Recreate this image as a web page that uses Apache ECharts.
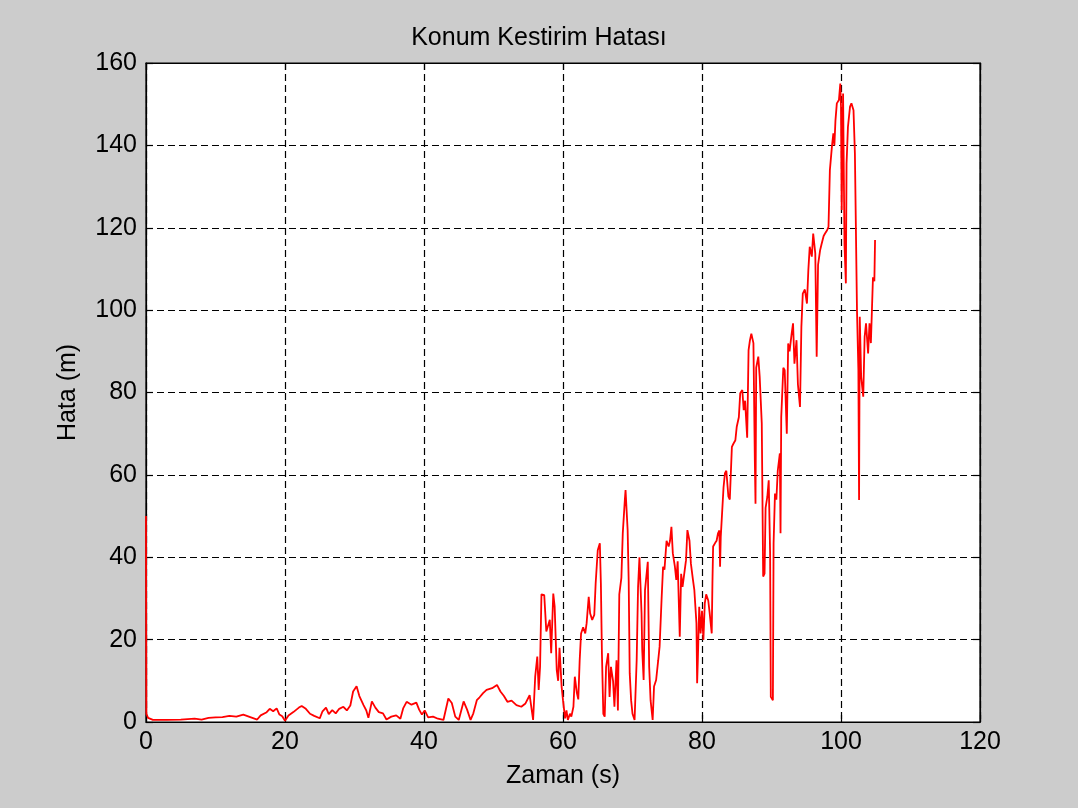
<!DOCTYPE html>
<html>
<head>
<meta charset="utf-8">
<title>Konum Kestirim Hatası</title>
<script src="https://cdn.jsdelivr.net/npm/echarts@6/dist/echarts.min.js"></script>
<style>
  html, body { margin: 0; padding: 0; background: #cccccc; }
  #chart { width: 1078px; height: 808px; }
</style>
</head>
<body>
<div id="chart"></div>
<script>
// Time stamps (s) of the position-estimate error samples
const times = [
  0, 0.05, 0.3, 1, 3, 5, 7, 8, 9, 10, 11, 12, 13, 14, 15, 16, 16.5, 17.3, 17.8, 18.3,
  18.8, 19.2, 19.6, 20, 20.5, 21.2, 22.0, 22.4, 23, 23.6, 24.2, 25, 25.4, 25.9, 26.3, 26.8,
  27.3, 27.8, 28.4, 28.9, 29.4, 29.8, 30.3, 30.7, 31.3, 31.7, 32.0, 32.5, 33.0, 33.5, 34.1,
  34.6, 35.3, 36.0, 36.6, 37.0, 37.5, 38.2, 38.9, 39.3, 39.7, 40.1, 40.6, 41.3, 42.0, 42.8,
  43.5, 44.0, 44.5, 45.0, 45.7, 46.2, 46.7, 47.1, 47.6, 48.0, 48.5, 49.0, 49.8, 50.5, 51.0,
  51.5, 52.0, 52.6, 53.3, 54.0, 54.6, 55.2, 55.7,
  56.0, 56.3, 56.5, 56.7, 56.9, 57.3, 57.6, 58.1, 58.3, 58.6, 58.8, 59.1, 59.3, 59.5, 59.8,
  60.0, 60.3, 60.5, 60.7, 61.0, 61.2, 61.5, 61.7, 62.0, 62.2, 62.4, 62.6, 62.9, 63.2, 63.4,
  63.7, 63.9, 64.2, 64.5, 64.7, 65.0, 65.3, 65.45, 65.6, 65.8, 66.0, 66.2, 66.5, 66.7, 66.9,
  67.2, 67.4, 67.7, 67.9, 68.1, 68.4, 68.6, 68.9, 69.0, 69.3, 69.45, 69.6, 69.8, 70.0, 70.3,
  70.6, 70.8, 71.0, 71.2, 71.3, 71.4, 71.6, 71.8, 72.2, 72.3, 72.4, 72.6, 72.9, 73.1, 73.4,
  73.7, 73.9, 74.2, 74.4, 74.6, 74.9, 75.2, 75.4, 75.6, 75.8, 76.1, 76.3, 76.5, 76.8, 77.0,
  77.2, 77.7, 77.9, 78.2, 78.4, 78.7, 78.9, 79.2, 79.3, 79.4, 79.6, 79.8, 80.0, 80.2, 80.4,
  80.6, 80.9, 81.1, 81.4, 81.5, 81.6, 81.9, 82.1, 82.3, 82.5, 82.6, 82.7, 83.1, 83.3, 83.5,
  83.8, 84.0, 84.3, 84.5, 84.8, 85.0, 85.3, 85.5, 85.8, 86.0, 86.2, 86.5, 86.7, 86.9, 87.1,
  87.4, 87.6, 87.7, 87.8, 88.1, 88.3, 88.6, 88.8, 89.0, 89.15, 89.4, 89.6, 89.8, 89.9, 90.2,
  90.3, 90.5, 90.7, 90.9, 91.2, 91.3, 91.4, 91.7, 91.9, 92.2, 92.4, 92.6, 92.9, 93.1, 93.3,
  93.6, 93.8, 94.1, 94.3, 94.5, 94.8, 95.1, 95.3, 95.5, 95.8, 96.0, 96.3, 96.5, 96.7, 97.0,
  97.2, 97.5, 97.7, 98.0, 98.2, 98.4, 98.7, 98.9, 99.05, 99.2, 99.4, 99.7, 99.9, 100.0, 100.1,
  100.3, 100.5, 100.7, 100.8, 101.0, 101.3, 101.5, 101.8, 102.0, 102.3, 102.5, 102.6, 102.7,
  102.9, 103.2, 103.4, 103.6, 103.9, 104.1, 104.3, 104.6, 104.8, 104.9
];

// Position estimation error (m) at each time stamp
const errors = [
  50, 2, 1, 0.5, 0.5, 0.6, 0.8, 0.6, 1.0, 1.1, 1.2, 1.5, 1.3, 1.8, 1.2, 0.6, 1.6, 2.3, 3.2, 2.6,
  3.3, 1.8, 1.4, 0.3, 1.6, 2.4, 3.5, 3.9, 3.2, 2.0, 1.5, 0.9, 2.6, 3.5, 1.9, 2.9,
  2.1, 3.2, 3.7, 2.8, 4.0, 7.4, 8.7, 6.3, 4.1, 2.8, 1.0, 5.0, 3.5, 2.4, 2.1,
  0.6, 1.3, 1.6, 0.8, 3.3, 4.9, 4.2, 4.7, 3.0, 1.8, 2.8, 1.1, 1.3, 0.8, 0.5,
  5.7, 4.6, 1.3, 0.5, 5.0, 3.0, 0.5, 2.1, 5.3, 6.0, 7.0, 7.8, 8.2, 9.0, 7.4,
  6.3, 4.9, 5.2, 4.1, 3.7, 4.5, 6.5, 0.5,
  11, 15.9, 7.8, 13.4, 31, 30.8, 22, 24.8, 16.7, 31.2, 28, 12.6, 10, 18, 8.6,
  5.3, 0.9, 2.8, 0.5, 2.0, 1.3, 3.7, 11, 7, 5.5, 15, 21.5, 23, 21.5, 24,
  30.4, 26.4, 24.8, 26, 33.7, 41.7, 43.4, 33.7, 16.7, 2, 1.3, 13.4, 16.7, 6.1, 13.4,
  10, 3.7, 15, 2.8, 31, 35, 45.8, 54, 56.3, 46.6, 34.5, 11.8, 5.3, 2.0, 0.5,
  15, 32.8, 40, 40, 26.4, 17.5, 10.2, 32, 38.9, 26, 13.4, 5.3, 0.5, 8.6, 10.2,
  15, 18.3, 30.4, 37.7, 37, 44, 42.6, 44, 47.4, 41, 37.7, 34.5, 39, 20.7, 36,
  32.8, 39.3, 46.6, 44, 38.5, 34.5, 32, 24, 9.4, 15, 28, 21.5, 27, 19.9, 28.8,
  31, 29.5, 26.5, 21.5, 33.7, 42.6, 43.5, 44, 45.8, 46.5, 37.7, 45, 57, 60.4, 61,
  54.7, 54, 66.8, 67.5, 68.4, 71.7, 74, 79.8, 80.6, 75.7, 78, 69, 90.3, 92.7, 94.3,
  92, 63.6, 53, 86, 88.7, 83.8, 72.5, 35.3, 36, 52, 54.7, 58.7, 41, 6.1, 5.3,
  43.4, 55.5, 54, 61, 65.2, 45.8, 74, 86, 85.4, 70, 91.9, 90, 94.3, 96.8, 87,
  92.7, 82, 76.5, 96, 104, 105, 101.6, 109.7, 115.4, 113, 118.6, 113.8, 88.7, 111, 114.6,
  116, 118, 118.6, 119.4, 120.2, 134, 139.8, 142.9, 140, 146, 150.2, 151, 155, 149.4, 124.3,
  152.6, 116, 106.5, 135.6, 144.5, 149.4, 150.2, 148.5, 138, 100, 85.4, 53.9, 98.4,
  83.8, 79, 93.5, 96.8, 89.5, 96.8, 92, 108, 107, 117
];

// Axis tick values
const xTicks = [0, 20, 40, 60, 80, 100, 120];
const yTicks = [0, 20, 40, 60, 80, 100, 120, 140, 160];

const points = times.map((t, i) => [t, errors[i]]);

const FONT = '"Liberation Sans", Arial, sans-serif';
const textStyle = { fontFamily: FONT, fontSize: 25, color: '#000' };

const gridLine = { show: true, lineStyle: { color: '#000', type: [7, 4], width: 1.2 } };

function xAxisDef(position, showLabels) {
  return {
    type: 'value', position: position, gridIndex: 0,
    min: xTicks[0], max: xTicks[xTicks.length - 1], interval: xTicks[1] - xTicks[0],
    axisLine: { show: true, onZero: false, lineStyle: { color: '#000', width: 1.2 } },
    axisTick: { show: true, inside: true, length: 7, lineStyle: { color: '#000', width: 1.2 } },
    axisLabel: { show: showLabels, margin: 8, ...textStyle },
    splitLine: showLabels ? gridLine : { show: false }
  };
}

function yAxisDef(position, showLabels) {
  return {
    type: 'value', position: position, gridIndex: 0,
    min: yTicks[0], max: yTicks[yTicks.length - 1], interval: yTicks[1] - yTicks[0],
    axisLine: { show: true, onZero: false, lineStyle: { color: '#000', width: 1.2 } },
    axisTick: { show: true, inside: true, length: 7, lineStyle: { color: '#000', width: 1.2 } },
    axisLabel: { show: showLabels, margin: 9, ...textStyle },
    splitLine: showLabels ? gridLine : { show: false }
  };
}

const chart = echarts.init(document.getElementById('chart'), null, { renderer: 'canvas' });

chart.setOption({
  backgroundColor: '#cccccc',
  animation: false,
  title: {
    text: 'Konum Kestirim Hatası',
    left: 'center', top: 21,
    textStyle: { ...textStyle, fontWeight: 'normal' }
  },
  grid: {
    left: 146, right: 98, top: 63, bottom: 86,
    show: true, backgroundColor: '#ffffff', borderColor: '#000', borderWidth: 1.2
  },
  xAxis: [
    { ...xAxisDef('bottom', true), name: 'Zaman (s)', nameLocation: 'middle', nameGap: 42,
      nameTextStyle: textStyle },
    xAxisDef('top', false)
  ],
  yAxis: [
    { ...yAxisDef('left', true), name: 'Hata (m)', nameLocation: 'middle', nameGap: 65,
      nameRotate: 90, nameTextStyle: textStyle },
    yAxisDef('right', false)
  ],
  series: [{
    type: 'line',
    xAxisIndex: 0, yAxisIndex: 0,
    data: points,
    showSymbol: false,
    symbol: 'none',
    lineStyle: { color: '#ff0000', width: 1.8 },
    clip: true
  }]
});
</script>
</body>
</html>
